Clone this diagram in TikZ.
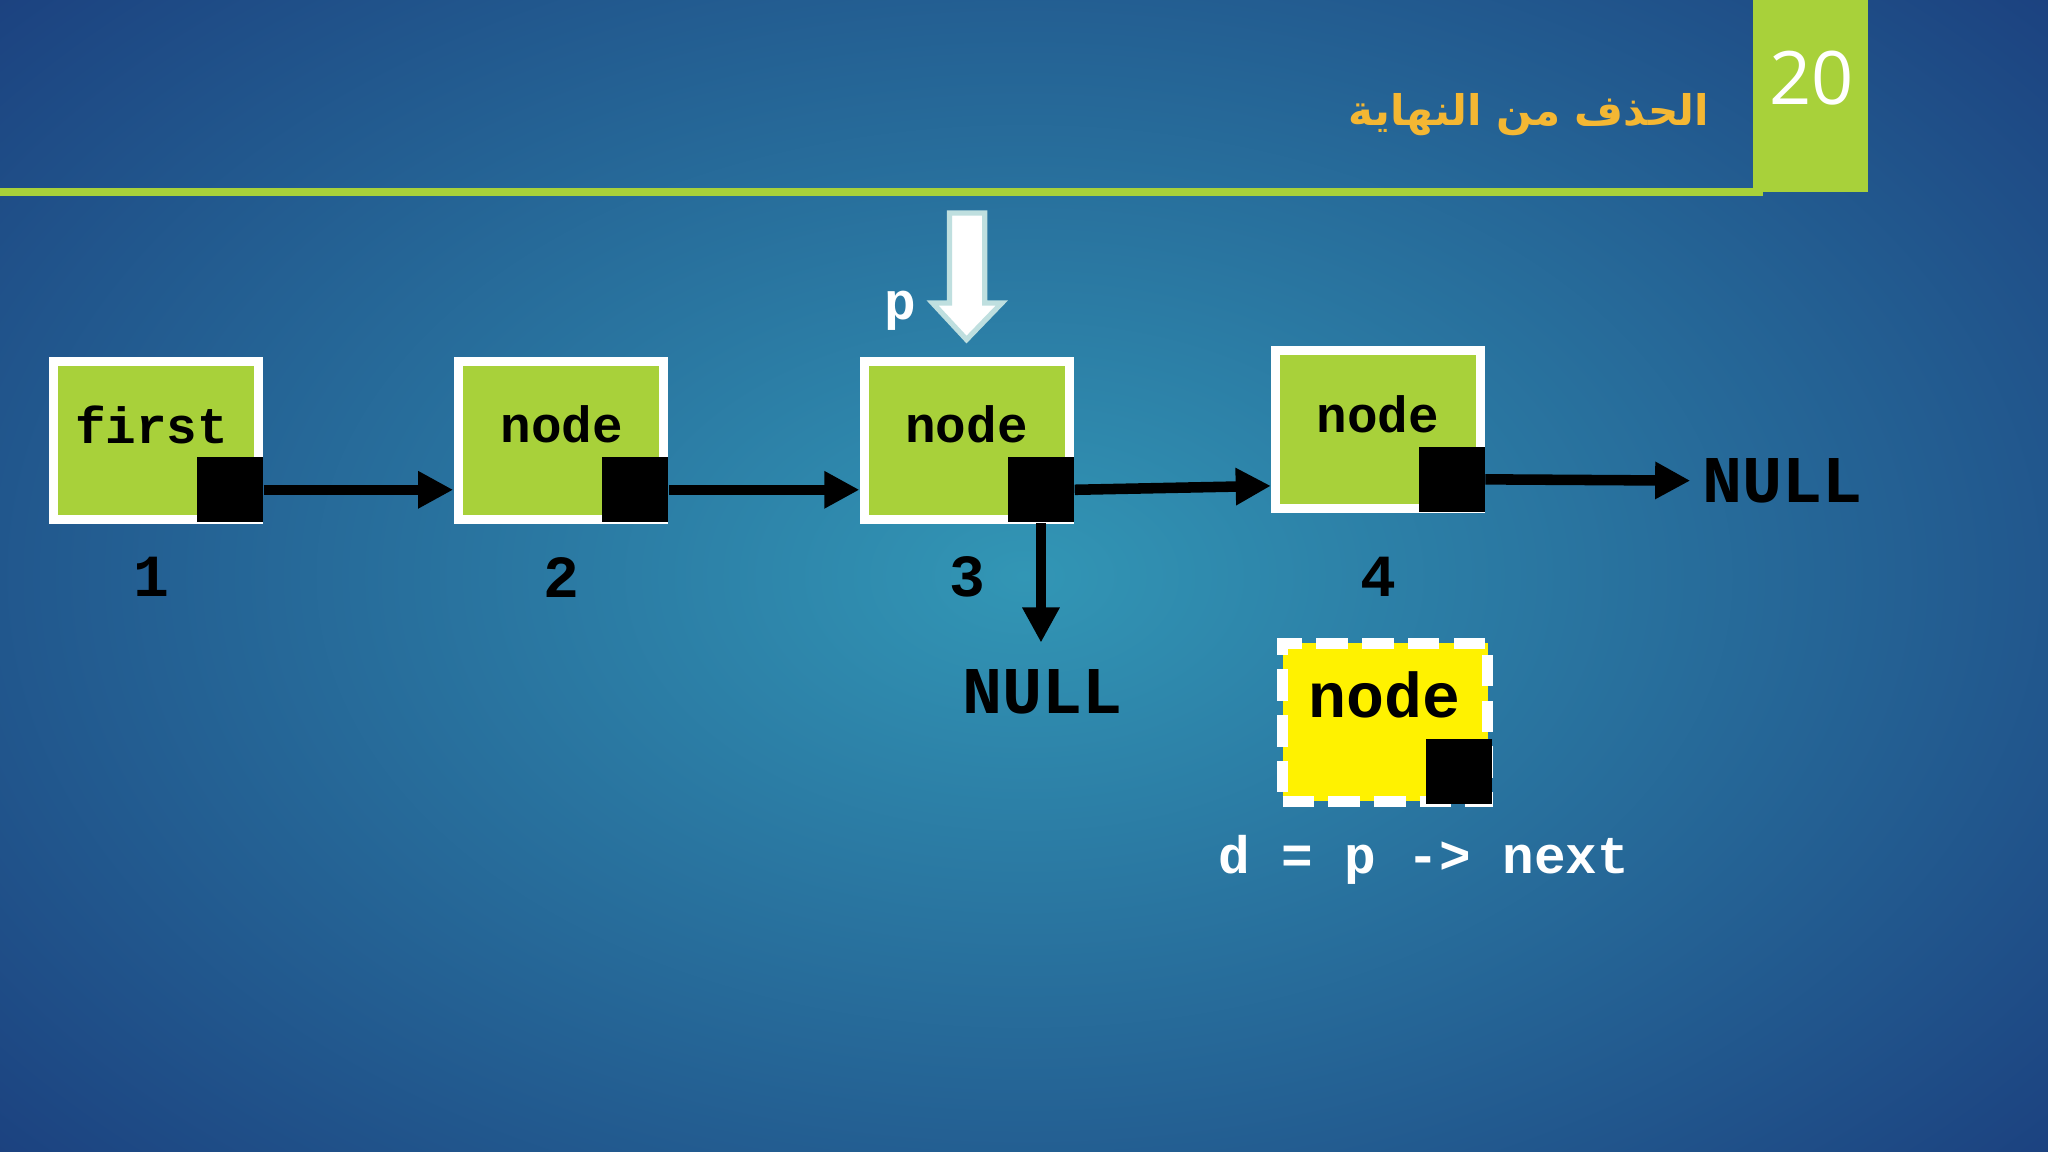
\documentclass[tikz,border=0pt]{standalone}
\usepackage{fontspec}
\setmainfont{Liberation Mono}
\newfontfamily\arab[Script=Arabic]{DejaVu Sans}
\newfontfamily\sansf{Open Sans}
\TeXXeTstate=1
\usetikzlibrary{arrows.meta}
\definecolor{bgc}{HTML}{3296B5}
\definecolor{bge}{HTML}{1B3F7E}
\definecolor{lgreen}{HTML}{A8D13A}
\definecolor{ttl}{HTML}{F4B733}
\begin{document}
\begin{tikzpicture}[x=0.013061cm,y=-0.013061cm,
  box/.style={draw=white,line width=2.5pt,fill=lgreen,minimum width=2.05cm,minimum height=1.58cm,inner sep=0},
  sq/.style={fill=black,minimum width=0.66cm,minimum height=0.65cm,inner sep=0},
  lab/.style={font=\fontsize{14.5}{16}\selectfont\bfseries,text=black},
  num/.style={font=\fontsize{17}{20}\selectfont\bfseries,text=black},
  arr/.style={-{Triangle[length=10pt,width=10pt]},line width=3pt,black}]
\useasboundingbox (0,0) rectangle (1568,882);
\shade[inner color=bgc,outer color=bge] (-300,-250) rectangle (1868,1132);
\fill[lgreen] (1342,0) rectangle (1430,147);
\node[text=white,font=\sansf\fontsize{21}{24}\selectfont] (pg) at (1387,60) {20};
\draw[lgreen,line width=2.5pt] (0,147) -- (1350,147);
\node[anchor=east,text=ttl,font=\arab\fontsize{12}{16}\selectfont\bfseries] (t) at (1318,88) {\beginR الحذف من النهاية\endR};
% nodes
\node[box] (n1) at (119.5,337) {};
\node[lab,anchor=center] (l1) at (116,325) {first};
\node[sq] (s1) at (176,375) {};
\node[box] (n2) at (429.5,337) {};
\node[lab] (l2) at (430,325) {node};
\node[sq] (s2) at (486.5,375) {};
\node[box] (n3) at (740.5,337) {};
\node[lab] (l3) at (740,325) {node};
\node[sq] (s3) at (797,375) {};
\node[box] (n4) at (1055,329) {};
\node[lab] (l4) at (1055,317) {node};
\node[sq] (s4) at (1111.5,367) {};
\node[num] (k1) at (116,442) {1};
\node[num] (k2) at (430,442) {2};
\node[num] (k3) at (741,442) {3};
\node[num] (k4) at (1055,442) {4};
\node[num,font=\fontsize{19}{22}\selectfont\bfseries] (null1) at (1365,368) {NULL};
\node[num,font=\fontsize{19}{22}\selectfont\bfseries] (null2) at (798,530) {NULL};
\coordinate (a2) at (347,375);
\coordinate (a3) at (658,375);
\coordinate (a4) at (973,372);
\draw[arr] (s1.east) -- (a2);
\draw[arr] (s2.east) -- (a3);
\draw[arr] (s3.east) -- (a4);
\draw[arr] (s4.east) -- (null1.west);
\draw[arr] (s3.south) -- (797,492);
% p arrow
\draw[fill=white,draw=teal!25,line width=1.5pt,line join=miter] (727,163) -- (754,163) -- (754,232) -- (767,232) -- (740,260) -- (714,232) -- (727,232) -- cycle;
\node[text=white,font=\fontsize{15}{18}\selectfont\bfseries] (p) at (689,238) {p};
% deleted node
\node[box,fill=yellow,dashed,dash pattern=on 9pt off 4pt,line width=3pt] (d) at (1060.5,553) {};
\node[font=\fontsize{18}{22}\selectfont\bfseries] (dl) at (1060,532) {node};
\node[sq] (ds) at (1117,591) {};
\node[text=white,font=\fontsize{15}{18}\selectfont\bfseries] (dt) at (1090,658) {d = p -> next};
\end{tikzpicture}
\end{document}
